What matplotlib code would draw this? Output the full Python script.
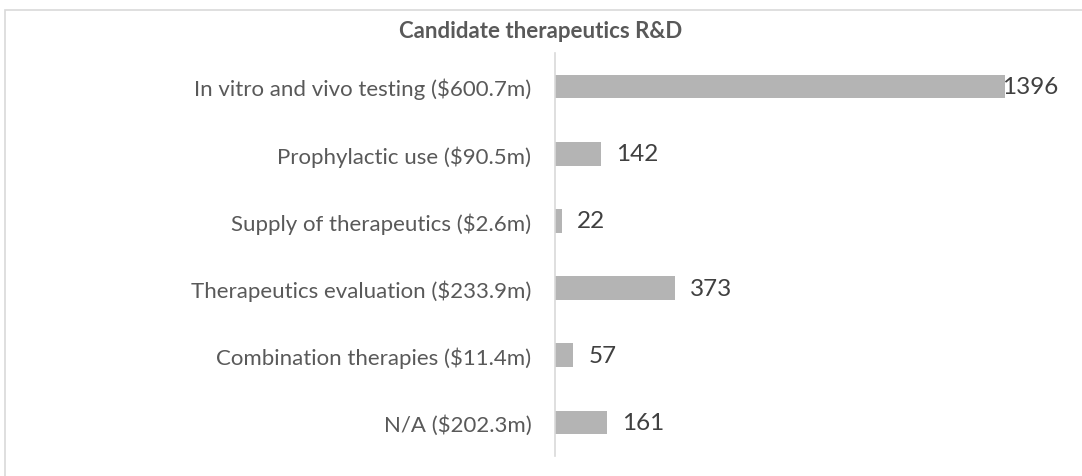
import matplotlib.pyplot as plt
from matplotlib.patches import Rectangle

categories = [
    "In vitro and vivo testing ($600.7m)",
    "Prophylactic use ($90.5m)",
    "Supply of therapeutics ($2.6m)",
    "Therapeutics evaluation ($233.9m)",
    "Combination therapies ($11.4m)",
    "N/A ($202.3m)",
]
counts = [1396, 142, 22, 373, 57, 161]
title = "Candidate therapeutics R&D"

W, H = 1082, 477
fig = plt.figure(figsize=(W / 100, H / 100), dpi=100)

# light chart border (cropped at right/bottom like the reference)
fig.patches.append(Rectangle((5 / W, -0.1), 1.2, 1 - 11 / H + 0.1,
                             transform=fig.transFigure, fill=False,
                             edgecolor="#d9d9d9", linewidth=1.2))

ax = fig.add_axes([555 / W, 1 - 457 / H, (W - 555) / W, (457 - 54) / H])
px_per_unit = (1005 - 555) / 1396
ax.set_xlim(0, (W - 555) / px_per_unit)
ax.set_ylim(len(categories) - 0.5, -0.5)

y = list(range(len(categories)))
ax.barh(y, counts, height=0.35, color="#b4b4b4")

for spine in ["top", "right", "bottom"]:
    ax.spines[spine].set_visible(False)
ax.spines["left"].set_color("#d9d9d9")
ax.spines["left"].set_linewidth(1.2)
ax.set_xticks([])
ax.set_yticks(y)
ax.set_yticklabels(categories, fontfamily="Lato", fontsize=16, color="#595959")
ax.tick_params(axis="y", length=0, pad=17)

vmax = max(counts)
for yi, v in zip(y, counts):
    off = -3 if v == vmax else 15
    ax.annotate(str(v), (v, yi), xytext=(off, 0), textcoords="offset pixels",
                va="center", ha="left", fontfamily="Lato", fontsize=17.5,
                color="#404040")

fig.text(0.5, 1 - 32 / H, title, ha="center", va="center", fontfamily="Lato",
         fontweight="bold", fontsize=16, color="#595959")

fig.savefig("out.png", dpi=100)
